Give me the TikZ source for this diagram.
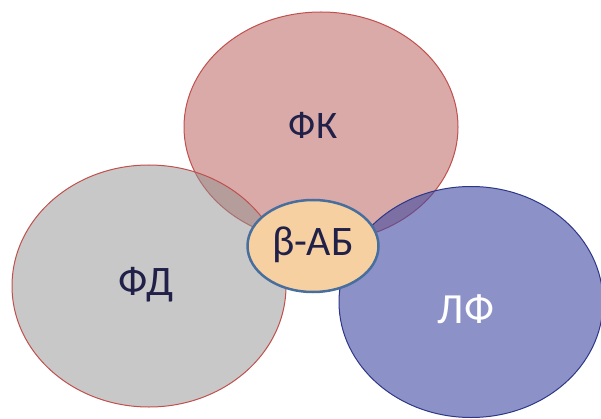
\documentclass[tikz,border=0pt]{standalone}
\usepackage{fontspec}
\setmainfont{Carlito}
\usetikzlibrary{shapes.geometric}
\definecolor{pinkfill}{RGB}{192,113,110}
\definecolor{grayfill}{RGB}{145,145,145}
\definecolor{bluefill}{RGB}{63,73,163}
\definecolor{redline}{RGB}{192,80,77}
\definecolor{blueline}{RGB}{45,55,135}
\definecolor{centerfill}{RGB}{246,208,160}
\definecolor{centerline}{RGB}{72,110,158}
\definecolor{navytext}{RGB}{32,32,72}
\tikzset{
  blob/.style={ellipse, inner sep=0pt, line width=1pt},
  lbl/.style={inner sep=0pt, text=navytext}
}
\begin{document}
\begin{tikzpicture}[x=1pt,y=-1pt]
\useasboundingbox (0,0) rectangle (601,419);
\node[blob, draw=redline, fill=pinkfill, fill opacity=0.6, minimum width=274pt, minimum height=230pt] (fk) at (321,127) {};
\node[blob, draw=redline, fill=grayfill, fill opacity=0.5, minimum width=274pt, minimum height=242pt] (fd) at (149,286) {};
\node[blob, draw=blueline, fill=bluefill, fill opacity=0.6, minimum width=264pt, minimum height=231pt] (lf) at (471,302) {};
\node[blob, draw=centerline, fill=centerfill, line width=2.5pt, minimum width=131pt, minimum height=92pt] (ab) at (313,246) {};
\node[lbl, font=\fontsize{39}{43}\selectfont] (tfk) at (313,125) {ФК};
\node[lbl, font=\fontsize{42}{46}\selectfont] (tfd) at (146,285) {ФД};
\node[lbl, font=\fontsize{43}{47}\selectfont, text=white] (tlf) at (466,309) {ЛФ};
\node[lbl, font=\fontsize{42}{46}\selectfont] (tab) at (313,245) {β-АБ};
\end{tikzpicture}
\end{document}
